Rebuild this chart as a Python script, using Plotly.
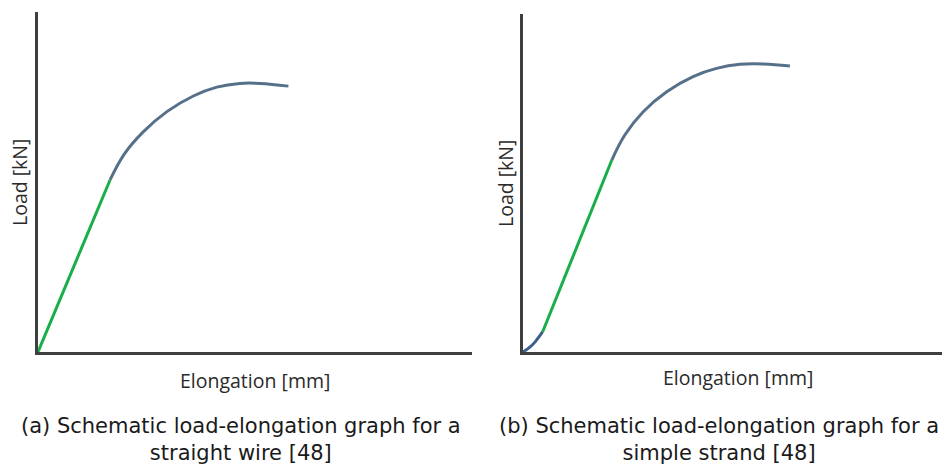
import plotly.graph_objects as go

# ---- (a) straight wire: elastic line + plastic curve (schematic units 0-100)
wire_elastic_x = [0.0, 16.6]
wire_elastic_y = [0.0, 50.6]
wire_plastic_x = [16.6, 20.0, 24.3, 29.7, 35.8, 41.2, 46.5, 51.2, 57.7]
wire_plastic_y = [50.6, 58.4, 64.8, 70.7, 75.3, 77.9, 79.0, 79.0, 78.2]

# ---- (b) simple strand: toe region + elastic line + plastic curve
strand_toe_x = [0.0, 1.7, 2.9, 4.7]
strand_toe_y = [0.0, 1.5, 3.0, 6.0]
strand_elastic_x = [4.7, 21.2]
strand_elastic_y = [6.0, 56.8]
strand_plastic_x = [21.2, 24.3, 28.7, 34.3, 40.6, 46.2, 51.8, 57.4, 63.7]
strand_plastic_y = [56.8, 64.2, 71.1, 77.0, 81.5, 83.9, 85.1, 85.2, 84.6]

y_title = "Load [kN]"
x_title = "Elongation [mm]"
captions = [
    "(a) Schematic load-elongation graph for a<br>straight wire [48]",
    "(b) Schematic load-elongation graph for a<br>simple strand [48]",
]

GREEN = "#1aae48"
STEEL = "#56708a"
AXIS = "#3f3f3f"

W, H = 942, 469


def px(x):
    return x / W


def py(y):
    return 1 - y / H


fig = go.Figure()

line_kw = dict(mode="lines", showlegend=False, hoverinfo="skip")
fig.add_trace(go.Scatter(x=wire_elastic_x, y=wire_elastic_y, xaxis="x", yaxis="y",
                         line=dict(color=GREEN, width=3), **line_kw))
fig.add_trace(go.Scatter(x=wire_plastic_x, y=wire_plastic_y, xaxis="x", yaxis="y",
                         line=dict(color=STEEL, width=3, shape="spline", smoothing=1.1), **line_kw))
fig.add_trace(go.Scatter(x=strand_toe_x, y=strand_toe_y, xaxis="x2", yaxis="y2",
                         line=dict(color="#3e5f8e", width=3, shape="spline"), **line_kw))
fig.add_trace(go.Scatter(x=strand_elastic_x, y=strand_elastic_y, xaxis="x2", yaxis="y2",
                         line=dict(color=GREEN, width=3), **line_kw))
fig.add_trace(go.Scatter(x=strand_plastic_x, y=strand_plastic_y, xaxis="x2", yaxis="y2",
                         line=dict(color=STEEL, width=3, shape="spline", smoothing=1.1), **line_kw))

axis_common = dict(showgrid=False, zeroline=False, showticklabels=False, ticks="",
                   showline=True, linecolor=AXIS, linewidth=3, fixedrange=True)

fig.update_layout(
    width=W, height=H,
    margin=dict(l=0, r=0, t=0, b=0),
    paper_bgcolor="white", plot_bgcolor="white",
    xaxis=dict(domain=[px(38), px(472)], range=[0, 100], anchor="y", **axis_common),
    yaxis=dict(domain=[py(352), py(12)], range=[0, 100], anchor="x", **axis_common),
    xaxis2=dict(domain=[px(523), 1.0], range=[0, 100], anchor="y2", **axis_common),
    yaxis2=dict(domain=[py(352), py(14)], range=[0, 100], anchor="x2", **axis_common),
)

title_font = dict(family="Open Sans, Liberation Sans, sans-serif", size=19.5, color="#2a2a2a")
cap_font = dict(family="DejaVu Sans, Liberation Sans, sans-serif", size=21, color="#1a1a1a")

annos = [
    dict(text=y_title, x=px(20), y=py(183), textangle=-90, font=title_font),
    dict(text=y_title, x=px(505), y=py(184), textangle=-90, font=title_font),
    dict(text=x_title, x=px(255), y=py(380), font=title_font),
    dict(text=x_title, x=px(738), y=py(377), font=title_font),
    dict(text=captions[0], x=px(241), y=py(439), font=cap_font),
    dict(text=captions[1], x=px(719), y=py(439), font=cap_font),
]
for a in annos:
    fig.add_annotation(xref="paper", yref="paper", showarrow=False,
                       xanchor="center", yanchor="middle", align="center", **a)

fig.write_html("out.html")
